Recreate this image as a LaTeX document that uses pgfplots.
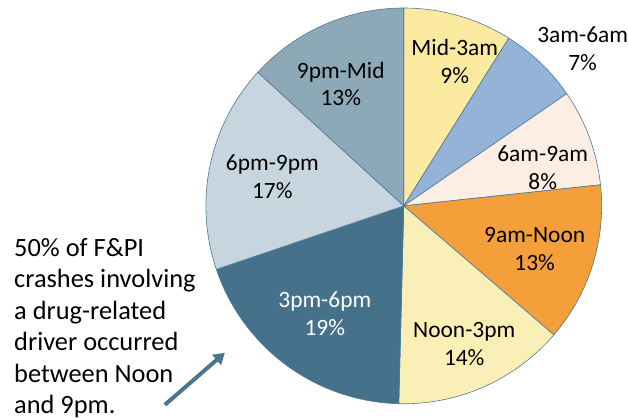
\documentclass[border=0pt]{standalone}
\usepackage{fontspec}
\setmainfont{Carlito}
\usepackage{pgfplots}
\pgfplotsset{compat=1.18}
\usetikzlibrary{arrows.meta}
\definecolor{cMid}{HTML}{FBEAA0}
\definecolor{cThree}{HTML}{94B3D7}
\definecolor{cSix}{HTML}{FDEEE3}
\definecolor{cNine}{HTML}{F49F3A}
\definecolor{cNoon}{HTML}{FAF0B7}
\definecolor{cThreePM}{HTML}{45728A}
\definecolor{cSixPM}{HTML}{C6D5DE}
\definecolor{cNinePM}{HTML}{8DA9B7}
\definecolor{edge}{HTML}{4A7A95}
\definecolor{arrowc}{HTML}{4A7790}
\tikzset{lbl/.style={font=\fontsize{23.5}{28}\selectfont, align=center, inner sep=0pt}}
% #1 cumulative share before the slice, #2 share of the slice, #3 colour
\newcommand\slice[3]{%
  \addplot[fill=#3, draw=edge, line width=0.6bp, domain={90-3.6*(#1+#2)}:{90-3.6*(#1)}, samples=80, variable=\t]
    ({198*cos(\t)},{198*sin(\t)}) -- (axis cs:0,0) -- cycle;
}
\begin{document}
\begin{tikzpicture}
\begin{axis}[x=1bp, y=1bp, xmin=-404, xmax=224, ymin=-212, ymax=206,
  hide axis, clip=false]
% shares (percent): 8.9, 6.5, 7.9, 13.0, 14.1, 19.4, 17.0, 13.2
\slice{0}{8.9}{cMid}
\slice{8.9}{6.5}{cThree}
\slice{15.4}{7.9}{cSix}
\slice{23.3}{13.0}{cNine}
\slice{36.3}{14.1}{cNoon}
\slice{50.4}{19.4}{cThreePM}
\slice{69.8}{17.0}{cSixPM}
\slice{86.8}{13.2}{cNinePM}
\node[lbl] at (axis cs:51,144.5) {Mid-3am\\9\%};
\node[lbl] at (axis cs:179,157) {3am-6am\\7\%};
\node[lbl] at (axis cs:139,38.5) {6am-9am\\8\%};
\node[lbl] at (axis cs:131,-43) {9am-Noon\\13\%};
\node[lbl] at (axis cs:60.5,-138) {Noon-3pm\\14\%};
\node[lbl, text=white] at (axis cs:-79,-108) {3pm-6pm\\19\%};
\node[lbl] at (axis cs:-131.5,29.5) {6pm-9pm\\17\%};
\node[lbl] at (axis cs:-63,122) {9pm-Mid\\13\%};
\node[anchor=north west, align=left, inner sep=0pt, font=\fontsize{26.5}{31.6}\selectfont] at (axis cs:-390,-32)
  {50\% of F\&PI\\crashes involving\\a drug-related\\driver occurred\\between Noon\\and 9pm.};
\draw[arrowc, line width=4bp, -{Triangle[length=11bp,width=13bp]}] (axis cs:-239,-199) -- (axis cs:-179,-147);
\path (rel axis cs:0,0) rectangle (rel axis cs:1,1);
\end{axis}
\end{tikzpicture}
\end{document}
